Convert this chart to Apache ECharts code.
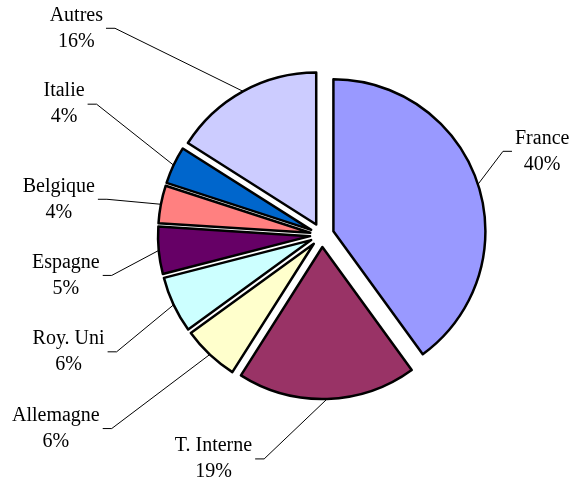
<!DOCTYPE html>
<html>
<head>
<meta charset="utf-8">
<script src="https://cdn.jsdelivr.net/npm/echarts@6/dist/echarts.min.js"></script>
<style>
html, body { margin: 0; padding: 0; background: #fff; }
#main { width: 580px; height: 484px; }
</style>
</head>
<body>
<div id="main"></div>
<script>
var names = ['France', 'T. Interne', 'Allemagne', 'Roy. Uni', 'Espagne', 'Belgique', 'Italie', 'Autres'];
var shares = [40, 19, 6, 6, 5, 4, 4, 16];
var colors = ['#9999FF', '#993366', '#FFFFCC', '#CCFFFF', '#660066', '#FF8080', '#0066CC', '#CCCCFF'];
// leader line: vector from the slice edge to the end next to the text
var leads = [[34, -33], [-72, 60], [-107, 74], [-66, 47], [-56, 25], [-63, -5], [-86, -61], [-137, -63]];

var GAP = 3, STUB = 9, DIST = 5;

var myChart = echarts.init(document.getElementById('main'));

// turn each leader vector into echarts labelLine length / length2
var total = 0;
for (var i = 0; i < shares.length; i++) {
	total += shares[i];
}
var data = [];
var cum = 0;
for (var i = 0; i < names.length; i++) {
	var a = (cum + shares[i] / 2) / total * Math.PI * 2;
	cum += shares[i];
	var ux = Math.sin(a), uy = -Math.cos(a);
	var d = leads[i];
	var s = ux < 0 ? -1 : 1;
	var t = d[0] < 0 ? -1 : 1;
	var len = d[1] / uy;
	var len2 = s * (d[0] + t * GAP - s * DIST - len * ux);
	data.push({
		name : names[i],
		value : shares[i],
		selected : true,
		itemStyle : { color : colors[i] },
		labelLine : { length : len, length2 : len2 }
	});
}

function placeLabel(p) {
	var p0 = p.labelLinePoints[0];
	var d = leads[p.dataIndex];
	var end = [p0[0] + d[0], p0[1] + d[1]];
	var left = d[0] < 0;
	var mid = [end[0] + (left ? STUB : -STUB), end[1]];
	return {
		align : left ? 'right' : 'left',
		labelLinePoints : [p0, mid, end]
	};
}

var option = {
	animation : false,
	series : [ {
		type : 'pie',
		center : [322, 235],
		radius : 152,
		startAngle : 90,
		selectedMode : 'multiple',
		selectedOffset : 12,
		avoidLabelOverlap : false,
		itemStyle : { borderColor : '#000', borderWidth : 2.5 },
		emphasis : { scale : false },
		label : {
			formatter : '{n|{b}}\n{n|{c}%}',
			distanceToLabelLine : DIST,
			color : '#000',
			rich : {
				n : {
					align : 'center',
					fontFamily : 'Liberation Serif',
					fontSize : 20,
					lineHeight : 26,
					color : '#000'
				}
			}
		},
		labelLine : { lineStyle : { color : '#000', width : 1 } },
		labelLayout : placeLabel,
		data : data
	} ]
};
myChart.setOption(option);
</script>
</body>
</html>
